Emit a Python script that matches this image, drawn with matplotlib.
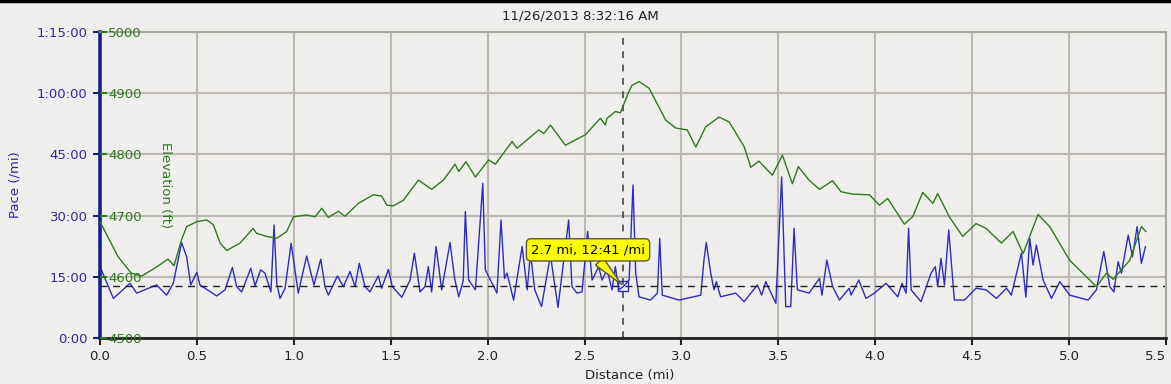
import matplotlib
matplotlib.use('Agg')
import matplotlib.pyplot as plt
from matplotlib.lines import Line2D
from matplotlib.ticker import FuncFormatter

# elevation profile (mi, ft)
elev_dist = [0.0, 0.093, 0.161, 0.213, 0.282, 0.351, 0.382, 0.42, 0.447, 0.499,
             0.55, 0.585, 0.62, 0.654, 0.722, 0.79, 0.808, 0.86, 0.912, 0.963,
             0.998, 1.066, 1.109, 1.144, 1.178, 1.23, 1.264, 1.333, 1.41, 1.453,
             1.48, 1.513, 1.565, 1.643, 1.711, 1.772, 1.832, 1.851, 1.888, 1.937,
             2.005, 2.04, 2.126, 2.152, 2.264, 2.29, 2.324, 2.401, 2.504, 2.582,
             2.607, 2.616, 2.659, 2.685, 2.728, 2.745, 2.781, 2.833, 2.919, 2.971,
             3.03, 3.074, 3.125, 3.194, 3.246, 3.323, 3.358, 3.4, 3.469, 3.521,
             3.572, 3.603, 3.658, 3.712, 3.78, 3.823, 3.884, 3.97, 4.021, 4.064,
             4.15, 4.193, 4.245, 4.297, 4.322, 4.382, 4.451, 4.52, 4.572, 4.651,
             4.711, 4.763, 4.84, 4.9, 5.003, 5.141, 5.193, 5.227, 5.313, 5.373,
             5.396]
elev_ft = [4690, 4633, 4606, 4601, 4614, 4629, 4618, 4660, 4682, 4690,
           4693, 4685, 4655, 4643, 4655, 4679, 4671, 4666, 4663, 4674,
           4698, 4701, 4698, 4712, 4697, 4707, 4699, 4720, 4734, 4732,
           4717, 4716, 4725, 4758, 4743, 4758, 4784, 4772, 4788, 4763,
           4791, 4784, 4821, 4810, 4840, 4834, 4848, 4815, 4832, 4859,
           4848, 4859, 4870, 4868, 4902, 4913, 4919, 4908, 4856, 4843,
           4840, 4812, 4845, 4861, 4853, 4813, 4779, 4789, 4766, 4799,
           4752, 4780, 4758, 4743, 4757, 4739, 4735, 4734, 4717, 4728,
           4686, 4698, 4738, 4720, 4736, 4698, 4666, 4687, 4679, 4655,
           4674, 4638, 4702, 4682, 4627, 4584, 4606, 4596, 4627, 4682,
           4674]

# pace (mi, minutes per mile)
pace_dist = [0.0, 0.069, 0.155, 0.189, 0.292, 0.344, 0.378, 0.421, 0.447, 0.468,
             0.499, 0.516, 0.602, 0.645, 0.683, 0.705, 0.731, 0.778, 0.8, 0.829,
             0.851, 0.882, 0.898, 0.912, 0.929, 0.955, 0.986, 1.023, 1.066, 1.104,
             1.139, 1.161, 1.178, 1.225, 1.256, 1.29, 1.316, 1.338, 1.367, 1.393,
             1.436, 1.453, 1.488, 1.508, 1.557, 1.6, 1.622, 1.651, 1.677, 1.694,
             1.711, 1.734, 1.763, 1.806, 1.83, 1.851, 1.874, 1.885, 1.902, 1.937,
             1.975, 1.988, 2.023, 2.048, 2.069, 2.087, 2.1, 2.134, 2.178, 2.204,
             2.221, 2.243, 2.278, 2.324, 2.363, 2.418, 2.435, 2.461, 2.487, 2.516,
             2.539, 2.573, 2.59, 2.616, 2.642, 2.659, 2.676, 2.702, 2.73, 2.75,
             2.764, 2.781, 2.841, 2.876, 2.888, 2.901, 2.988, 3.1, 3.116, 3.128,
             3.151, 3.168, 3.18, 3.202, 3.28, 3.323, 3.392, 3.414, 3.435, 3.487,
             3.517, 3.538, 3.564, 3.581, 3.598, 3.658, 3.712, 3.725, 3.75, 3.78,
             3.815, 3.866, 3.875, 3.915, 3.952, 3.995, 4.056, 4.116, 4.138, 4.159,
             4.172, 4.185, 4.236, 4.288, 4.31, 4.322, 4.339, 4.357, 4.379, 4.408,
             4.46, 4.52, 4.572, 4.625, 4.677, 4.702, 4.754, 4.777, 4.797, 4.814,
             4.831, 4.866, 4.909, 4.952, 5.003, 5.098, 5.141, 5.179, 5.21, 5.231,
             5.253, 5.27, 5.305, 5.327, 5.351, 5.373, 5.394]
pace_min = [17.5, 9.7, 13.4, 11.0, 13.0, 10.5, 13.4, 23.4, 19.9, 13.0,
            16.1, 13.0, 10.3, 11.8, 17.3, 12.6, 11.3, 17.1, 12.8, 16.7,
            15.9, 11.3, 27.7, 13.4, 9.7, 12.2, 23.2, 11.0, 20.1, 13.0,
            19.3, 12.6, 10.5, 15.2, 12.6, 16.3, 12.6, 18.3, 12.6, 11.3,
            15.2, 12.2, 16.8, 12.6, 10.0, 14.2, 20.8, 11.3, 12.6, 17.5,
            11.3, 22.4, 11.8, 23.4, 14.5, 10.1, 14.0, 31.0, 14.2, 11.8,
            37.9, 16.7, 13.4, 11.0, 28.9, 14.6, 15.9, 9.3, 22.4, 11.8,
            20.8, 11.8, 7.7, 20.3, 7.5, 28.9, 12.6, 11.0, 11.3, 26.1,
            14.2, 17.5, 14.2, 16.7, 11.8, 17.5, 11.8, 12.7, 14.2, 37.5,
            15.9, 10.1, 9.3, 11.0, 24.4, 10.5, 9.3, 10.5, 19.1, 23.4,
            15.9, 11.8, 13.8, 10.1, 11.0, 8.9, 13.0, 10.5, 13.8, 8.5,
            39.5, 7.7, 7.7, 26.9, 11.8, 11.0, 14.6, 10.5, 19.1, 12.6,
            9.3, 12.2, 10.5, 14.2, 9.7, 11.0, 13.4, 10.1, 13.4, 11.0,
            26.9, 11.8, 8.9, 15.9, 17.5, 12.6, 19.5, 13.0, 26.5, 9.3,
            9.3, 12.2, 11.8, 9.7, 12.2, 10.5, 20.8, 10.0, 24.4, 17.9,
            22.8, 14.2, 9.7, 13.8, 10.5, 9.3, 11.8, 21.2, 12.6, 11.3,
            18.7, 15.9, 25.2, 19.9, 27.3, 18.3, 22.4]

cursor_dist = 2.7
cursor_pace = 12 + 41 / 60.0
cursor_text = '2.7 mi, 12:41 /mi'
title = '11/26/2013 8:32:16 AM'

bg = '#f0eeec'
blue = '#2c2cc4'
navy = '#14208c'
pace_lbl = '#3a22a6'
green = '#2f7a1f'
gridc = '#bcb8b4'

fig = plt.figure(figsize=(11.71, 3.84), dpi=100, facecolor=bg)
ax = fig.add_axes([100 / 1171, 46 / 384, 1066 / 1171, 306 / 384])
ax.set_facecolor(bg)
ax2 = ax.twinx()

ax.plot(pace_dist, pace_min, color=blue, lw=1.0)
ax2.plot(elev_dist, elev_ft, color=green, lw=1.0)

ax.set_xlim(0, 5.5)
ax.set_ylim(0, 75)
ax2.set_ylim(4500, 5000)

ax.set_xticks([i * 0.5 for i in range(12)])
ax.xaxis.set_major_formatter(FuncFormatter(lambda v, p: '%.1f' % v))
ax.set_yticks([0, 15, 30, 45, 60, 75])


def fmt_pace(v, pos):
    m = int(round(v))
    if m >= 60:
        return '%d:%02d:00' % (m // 60, m % 60)
    return '%d:00' % m


ax.yaxis.set_major_formatter(FuncFormatter(fmt_pace))
ax.grid(True, color=gridc, lw=1.5)
ax.set_axisbelow(True)

ax.tick_params(axis='x', colors='#222222', labelsize=9.5, length=5, width=1.5)
ax.tick_params(axis='y', colors=navy, labelcolor=pace_lbl, labelsize=9.5,
               length=5, width=1.5, pad=4)

# last x label is pulled inside the figure
fig.canvas.draw()
ax.get_xticklabels()[-1].set_ha('right')

for s in ['top', 'right']:
    ax.spines[s].set_color('#aaa6a2')
    ax.spines[s].set_linewidth(1.5)
ax.spines['left'].set_color(navy)
ax.spines['left'].set_linewidth(2.6)
ax.spines['bottom'].set_color('#222222')
ax.spines['bottom'].set_linewidth(2)
for s in ax2.spines.values():
    s.set_visible(False)

# elevation ticks sit inside the plot, next to the pace axis
ax2.set_yticks([4500, 4600, 4700, 4800, 4900, 5000])
ax2.yaxis.set_ticks_position('left')
ax2.tick_params(axis='y', left=True, right=False, labelleft=True, labelright=False,
                direction='in', length=5, width=1.5, pad=-6, colors=green,
                labelsize=9.5)
for t in ax2.get_yticklabels():
    t.set_ha('left')

ax.text(0.061, 0.5, 'Elevation (ft)', rotation=-90, transform=ax.transAxes,
        color=green, fontsize=9.5, ha='center', va='center')

# cursor
ax.axhline(cursor_pace, color='#222222', lw=1, dashes=(5, 4))
ax.axvline(cursor_dist, color='#444444', lw=1.2, dashes=(4, 4))
ax.plot(cursor_dist, cursor_pace, 's', mfc='none', mec=blue, ms=7, mew=1)
ax.annotate(cursor_text, xy=(cursor_dist, cursor_pace), xytext=(2.518, 21.6),
            ha='center', va='center', fontsize=9.5, color='black',
            bbox=dict(boxstyle='round,pad=0.35', fc='#ffff00', ec='#5a5a3a', lw=1),
            arrowprops=dict(arrowstyle='wedge,tail_width=0.8', fc='#ffff00',
                            ec='#5a5a3a', shrinkA=0, shrinkB=2))

fig.text(0.496, 1 - 16 / 384, title, ha='center', va='center', fontsize=9.5,
         color='#222222')
fig.text(629.5 / 1171, 1 - 375 / 384, 'Distance (mi)', ha='center', va='center',
         fontsize=9.5, color='#222222')
fig.text(15 / 1171, 1 - 185 / 384, 'Pace (/mi)', rotation=90, ha='center',
         va='center', fontsize=9.5, color=pace_lbl)
fig.add_artist(Line2D([0, 1], [0.997, 0.997], color='black', lw=2.5,
                      transform=fig.transFigure))

fig.savefig('out.png', dpi=100, facecolor=bg)
